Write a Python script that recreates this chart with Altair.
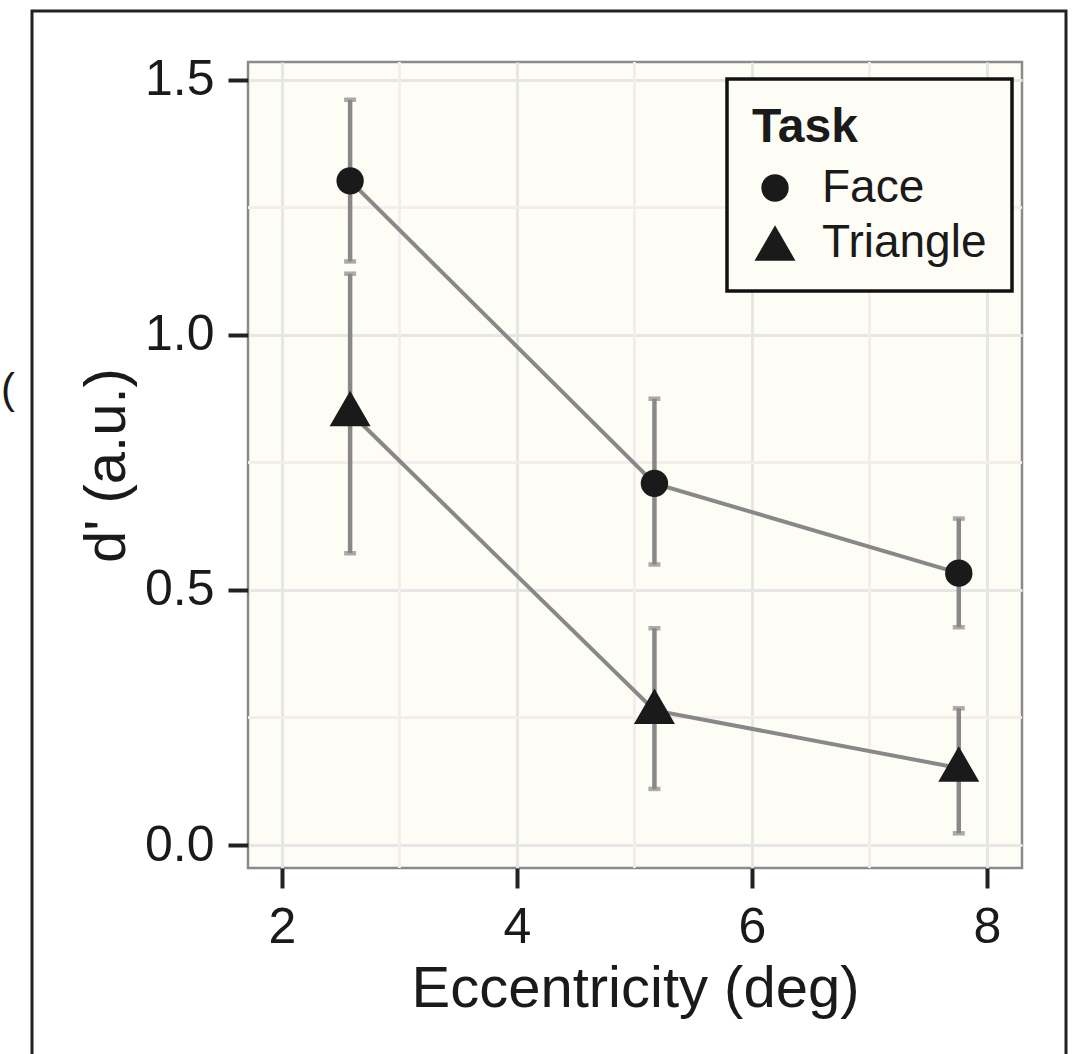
import altair as alt
import pandas as pd

# ---- data ----
task = ["Face", "Face", "Face", "Triangle", "Triangle", "Triangle"]
ecc = [2.58, 5.17, 7.76, 2.58, 5.17, 7.76]
dprime = [1.302, 0.709, 0.533, 0.848, 0.264, 0.151]
upper = [1.461, 0.875, 0.640, 1.120, 0.425, 0.268]
lower = [1.144, 0.550, 0.427, 0.572, 0.110, 0.023]

x_ticks = [2, 4, 6, 8]
y_ticks = [0.0, 0.5, 1.0, 1.5]
x_minor = [3, 5, 7]
y_minor = [0.25, 0.75, 1.25]
task_levels = ["Face", "Triangle"]

df = pd.DataFrame({"task": task, "ecc": ecc, "d": dprime, "hi": upper, "lo": lower})
xm = pd.DataFrame({"v": x_minor})
ym = pd.DataFrame({"v": y_minor})
dummy = pd.DataFrame({"k": [0]})

FONT = "Liberation Sans"
GREY = "#888888"
INK = "#1a1a1a"

xs = alt.Scale(domain=[1.711, 8.298], nice=False, zero=False)
ys = alt.Scale(domain=[-0.045, 1.535], nice=False, zero=False)

x_axis = alt.X("ecc:Q", scale=xs, title="Eccentricity (deg)",
               axis=alt.Axis(values=x_ticks, format="d"))
y_axis = alt.Y("d:Q", scale=ys, title="d' (a.u.)",
               axis=alt.Axis(values=y_ticks, format=".1f"))
x_plain = alt.X("ecc:Q", scale=xs)

shape_enc = alt.Shape("task:N", scale=alt.Scale(domain=task_levels, range=["circle", "triangle-up"]),
                      legend=alt.Legend(title="Task"))
size_enc = alt.Size("task:N", scale=alt.Scale(domain=task_levels, range=[750, 1681]),
                    legend=alt.Legend(title="Task"))

base = alt.Chart(df)

minor_x = alt.Chart(xm).mark_rule(color="#f3eded", strokeWidth=3).encode(
    x=alt.X("v:Q", scale=xs))
minor_y = alt.Chart(ym).mark_rule(color="#f3eded", strokeWidth=3).encode(
    y=alt.Y("v:Q", scale=ys))

lines = base.mark_line(color=GREY, strokeWidth=4).encode(
    x=x_axis, y=y_axis, detail="task:N")

bars = base.mark_rule(color=GREY, strokeWidth=4.5).encode(
    x=x_plain, y=alt.Y("lo:Q", scale=ys), y2="hi:Q")
cap_hi = base.mark_tick(color=GREY, orient="horizontal", size=12, thickness=4.5).encode(
    x=x_plain, y=alt.Y("hi:Q", scale=ys))
cap_lo = base.mark_tick(color=GREY, orient="horizontal", size=12, thickness=4.5).encode(
    x=x_plain, y=alt.Y("lo:Q", scale=ys))

pts_face = base.transform_filter(alt.datum.task == "Face").mark_point(
    filled=True, opacity=1, strokeWidth=0).encode(
    x=x_plain, y=alt.Y("d:Q", scale=ys),
    shape=shape_enc, size=size_enc, color=alt.value(INK))
pts_tri = base.transform_filter(alt.datum.task == "Triangle").mark_point(
    filled=True, opacity=1, strokeWidth=0, yOffset=-4).encode(
    x=x_plain, y=alt.Y("d:Q", scale=ys),
    shape=shape_enc, size=size_enc, color=alt.value(INK))

frame = alt.Chart(dummy).mark_rect(fillOpacity=0, stroke="#222222", strokeWidth=3).encode(
    x=alt.value(32 - 248), x2=alt.value(1066 - 248),
    y=alt.value(11 - 62), y2=alt.value(1054 - 62 + 20))

stray = alt.Chart(dummy).mark_text(text="(", fontSize=42, font=FONT, align="left",
                                   baseline="middle", color=INK).encode(
    x=alt.value(1 - 248), y=alt.value(390 - 62))

chart = alt.layer(minor_x, minor_y, lines, bars, cap_hi, cap_lo, pts_face, pts_tri, frame, stray).properties(
    width=774, height=806,
    autosize=alt.AutoSizeParams(type="none"),
    padding={"left": 248, "top": 62, "right": 55, "bottom": 186},
    background="white",
).configure_view(
    fill="#fdfdf6", stroke="#8a8a8a", strokeWidth=2.5
).configure_axis(
    domain=False,
    grid=True, gridColor="#e6e6e6", gridWidth=3,
    tickColor="#222222", tickWidth=4, tickSize=20,
    labelFont=FONT, labelFontSize=50, labelColor=INK, labelPadding=14,
    titleFont=FONT, titleFontSize=58, titleFontWeight="normal", titleColor=INK,
).configure_axisY(
    titlePadding=8
).configure_axisX(
    titlePadding=8
).configure_legend(
    orient="none", legendX=479, legendY=17,
    padding=25, strokeColor="#111111", strokeWidth=3.5, fillColor="#fdfdf6",
    titleFont=FONT, titleFontSize=48, titleFontWeight="bold", titleColor=INK, titlePadding=13,
    labelFont=FONT, labelFontSize=46, labelColor=INK, labelOffset=24, labelLimit=500,
    rowPadding=9, symbolStrokeWidth=0,
)

chart.save("out.html", embed_options={"renderer": "svg", "actions": False})
